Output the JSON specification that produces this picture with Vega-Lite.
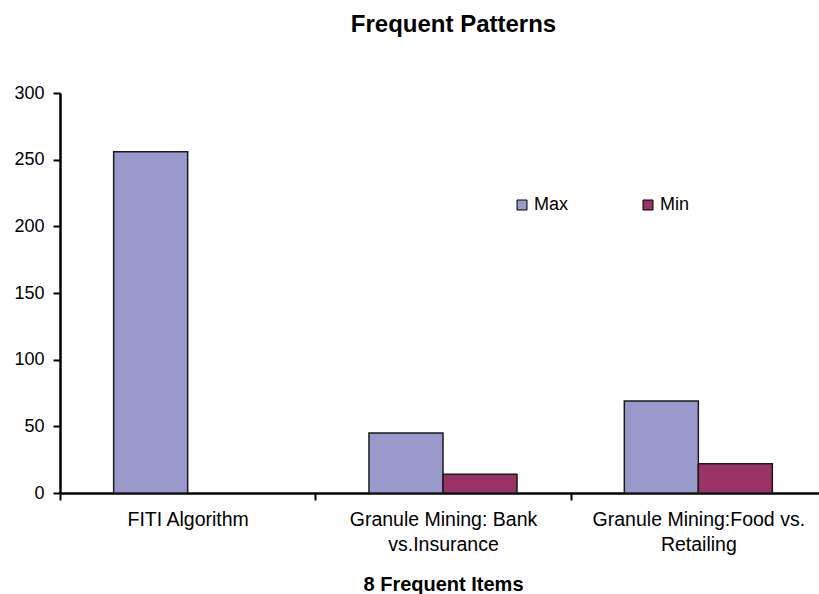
{
  "$schema": "https://vega.github.io/schema/vega-lite/v6.json",
  "width": 759,
  "height": 400,
  "autosize": {"type": "none"},
  "padding": {"left": 60, "top": 93, "right": 0, "bottom": 101},
  "background": "white",
  "title": {
    "text": "Frequent Patterns",
    "font": "Liberation Sans",
    "fontSize": 24,
    "fontWeight": "bold",
    "color": "black",
    "anchor": "middle",
    "baseline": "alphabetic",
    "offset": 28,
    "dx": 14
  },
  "data": {
    "values": [
      {"item": "FITI Algorithm", "series": "Max", "value": 256},
      {"item": "Granule Mining: Bank vs.Insurance", "series": "Max", "value": 45},
      {"item": "Granule Mining: Bank vs.Insurance", "series": "Min", "value": 14},
      {"item": "Granule Mining:Food vs. Retailing", "series": "Max", "value": 69},
      {"item": "Granule Mining:Food vs. Retailing", "series": "Min", "value": 22}
    ]
  },
  "mark": {"type": "bar", "stroke": "#1a1a1a", "strokeWidth": 1.5},
  "encoding": {
    "x": {
      "field": "item",
      "type": "nominal",
      "sort": null,
      "scale": {"range": [0, 766], "paddingInner": 0, "paddingOuter": 0},
      "axis": {
        "title": "8 Frequent Items",
        "titleFont": "Liberation Sans",
        "titleFontSize": 20,
        "titleFontWeight": "bold",
        "titleColor": "black",
        "titleY": 97,
        "titleBaseline": "alphabetic",
        "labelAngle": 0,
        "labelFont": "Liberation Sans",
        "labelFontSize": 19.5,
        "labelColor": "black",
        "labelLineHeight": 25,
        "labelPadding": 10,
        "labelOverlap": false,
        "labelBound": false,
        "labelLimit": 0,
        "labelExpr": "datum.value == 'Granule Mining: Bank vs.Insurance' ? ['Granule Mining: Bank', 'vs.Insurance'] : datum.value == 'Granule Mining:Food vs. Retailing' ? ['Granule Mining:Food vs.', 'Retailing'] : datum.value",
        "tickBand": "extent",
        "tickSize": 7,
        "tickWidth": 2,
        "tickColor": "black",
        "domainColor": "black",
        "domainWidth": 2.5,
        "grid": false
      }
    },
    "xOffset": {
      "field": "series",
      "type": "nominal",
      "sort": ["Max", "Min"],
      "scale": {"domain": ["Max", "Min"], "paddingInner": 0, "paddingOuter": 0.725}
    },
    "y": {
      "field": "value",
      "type": "quantitative",
      "scale": {"domain": [0, 300], "nice": false},
      "axis": {
        "title": null,
        "values": [0, 50, 100, 150, 200, 250, 300],
        "labelFont": "Liberation Sans",
        "labelFontSize": 18,
        "labelColor": "black",
        "labelPadding": 9,
        "tickSize": 7,
        "tickWidth": 2,
        "tickColor": "black",
        "domainColor": "black",
        "domainWidth": 2.5,
        "grid": false
      }
    },
    "color": {
      "field": "series",
      "type": "nominal",
      "scale": {"domain": ["Max", "Min"], "range": ["#9999CC", "#993366"]},
      "legend": {
        "title": null,
        "orient": "none",
        "legendX": 453,
        "legendY": 103,
        "direction": "horizontal",
        "symbolType": "square",
        "symbolSize": 100,
        "symbolStrokeColor": "black",
        "symbolStrokeWidth": 1,
        "symbolOpacity": 1,
        "labelFont": "Liberation Sans",
        "labelFontSize": 18,
        "labelColor": "black",
        "labelOffset": 3,
        "columnPadding": 70
      }
    }
  },
  "config": {"view": {"stroke": null}, "font": "Liberation Sans"}
}
